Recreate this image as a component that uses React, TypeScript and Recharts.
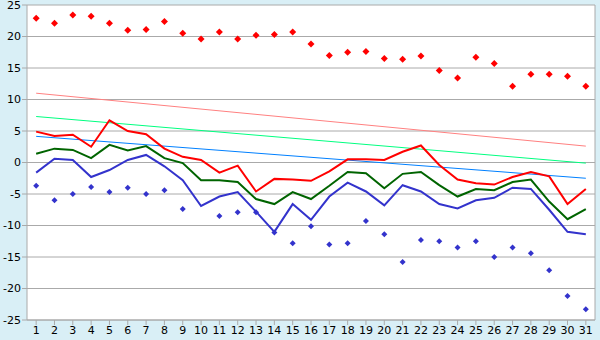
import React from 'react';
import { ComposedChart, Line, XAxis, YAxis, CartesianGrid, ReferenceLine } from 'recharts';

const days = [1, 2, 3, 4, 5, 6, 7, 8, 9, 10, 11, 12, 13, 14, 15, 16, 17, 18, 19, 20, 21, 22, 23, 24, 25, 26, 27, 28, 29, 30, 31];

// extreme points (diamonds)
const maxPoints = [22.9, 22.1, 23.4, 23.2, 22.1, 21.0, 21.1, 22.4, 20.5, 19.6, 20.7, 19.6, 20.2, 20.3, 20.7, 18.8, 17.0, 17.5, 17.6, 16.5, 16.4, 16.9, 14.6, 13.4, 16.7, 15.7, 12.1, 14.0, 14.0, 13.7, 12.1];
const minPoints = [-3.7, -6.0, -5.0, -3.9, -4.7, -4.0, -5.0, -4.4, -7.4, null, -8.5, -7.9, -7.9, -11.1, -12.8, -10.1, -13.0, -12.8, -9.3, -11.4, -15.8, -12.3, -12.5, -13.5, -12.5, -15.0, -13.5, -14.4, -17.1, -21.2, -23.3];

// daily lines
const redLine = [4.9, 4.2, 4.4, 2.5, 6.7, 5.0, 4.5, 2.2, 0.9, 0.4, -1.6, -0.5, -4.6, -2.6, -2.7, -2.9, -1.4, 0.5, 0.5, 0.4, 1.7, 2.7, -0.4, -2.7, -3.3, -3.5, -2.3, -1.5, -2.2, -6.6, -4.2];
const greenLine = [1.4, 2.2, 2.0, 0.7, 2.8, 1.9, 2.6, 0.7, -0.1, -2.8, -2.8, -3.1, -5.8, -6.6, -4.7, -5.8, -3.7, -1.5, -1.7, -4.1, -1.8, -1.5, -3.6, -5.4, -4.2, -4.4, -3.1, -2.7, -6.2, -9.0, -7.4];
const blueLine = [-1.6, 0.6, 0.4, -2.3, -1.2, 0.4, 1.2, -0.6, -2.8, -6.9, -5.4, -4.7, -7.8, -11.0, -6.6, -9.1, -5.4, -3.2, -4.6, -6.8, -3.6, -4.6, -6.6, -7.3, -6.0, -5.6, -4.0, -4.2, -7.5, -11.0, -11.4];

// trend lines: start (day 1) and end (day 31)
const trendRed = [11.0, 2.6];
const trendGreen = [7.3, -0.1];
const trendBlue = [4.15, -2.5];

const yTicks = [-25, -20, -15, -10, -5, 0, 5, 10, 15, 20, 25];

const data = days.map((day, i) => ({
  day,
  max: maxPoints[i],
  min: minPoints[i],
  red: redLine[i],
  green: greenLine[i],
  blue: blueLine[i],
  tRed: i === 0 ? trendRed[0] : i === days.length - 1 ? trendRed[1] : null,
  tGreen: i === 0 ? trendGreen[0] : i === days.length - 1 ? trendGreen[1] : null,
  tBlue: i === 0 ? trendBlue[0] : i === days.length - 1 ? trendBlue[1] : null,
}));

const diamond = (color: string, r: number) => (props: any) => {
  const { cx, cy, index } = props;
  if (cx == null || cy == null || props.value == null) return <g key={index} />;
  return (
    <path
      key={index}
      d={`M${cx},${cy - r}L${cx + r},${cy}L${cx},${cy + r}L${cx - r},${cy}Z`}
      fill={color}
      stroke="none"
    />
  );
};

const tickStyle = { fill: '#000', fontSize: 11, fontFamily: 'DejaVu Sans' };

export default function App() {
  return (
    <div style={{ width: 600, height: 340, background: '#D9EFF6' }}>
      <style>{'body{margin:0}'}</style>
      <ComposedChart width={600} height={340} data={data} margin={{ top: 5, right: 5, bottom: 0, left: 0 }}>
        <CartesianGrid vertical={false} stroke="#aaaaaa" fill="#ffffff" fillOpacity={1} />
        <XAxis
          dataKey="day"
          type="number"
          domain={[0.5, 31.5]}
          ticks={days}
          interval={0}
          height={20}
          tickSize={5}
          stroke="#aaaaaa"
          tick={tickStyle}
          tickMargin={1}
        />
        <YAxis
          type="number"
          domain={[-25, 25]}
          ticks={yTicks}
          interval={0}
          width={27}
          tickSize={5}
          stroke="#aaaaaa"
          tick={tickStyle}
          tickMargin={1}
        />
        <ReferenceLine x={31.5} stroke="#aaaaaa" />
        <Line dataKey="tRed" stroke="#FF8080" strokeWidth={1} dot={false} connectNulls isAnimationActive={false} />
        <Line dataKey="tGreen" stroke="#00FF80" strokeWidth={1} dot={false} connectNulls isAnimationActive={false} />
        <Line dataKey="tBlue" stroke="#0080FF" strokeWidth={1} dot={false} connectNulls isAnimationActive={false} />
        <Line dataKey="red" stroke="#FF0000" strokeWidth={2} dot={false} isAnimationActive={false} />
        <Line dataKey="green" stroke="#006400" strokeWidth={2} dot={false} isAnimationActive={false} />
        <Line dataKey="blue" stroke="#3333CC" strokeWidth={2} dot={false} isAnimationActive={false} />
        <Line dataKey="max" stroke="none" dot={diamond('#FF0000', 3.5)} activeDot={false} isAnimationActive={false} />
        <Line dataKey="min" stroke="none" dot={diamond('#3333CC', 3)} activeDot={false} isAnimationActive={false} />
      </ComposedChart>
    </div>
  );
}
